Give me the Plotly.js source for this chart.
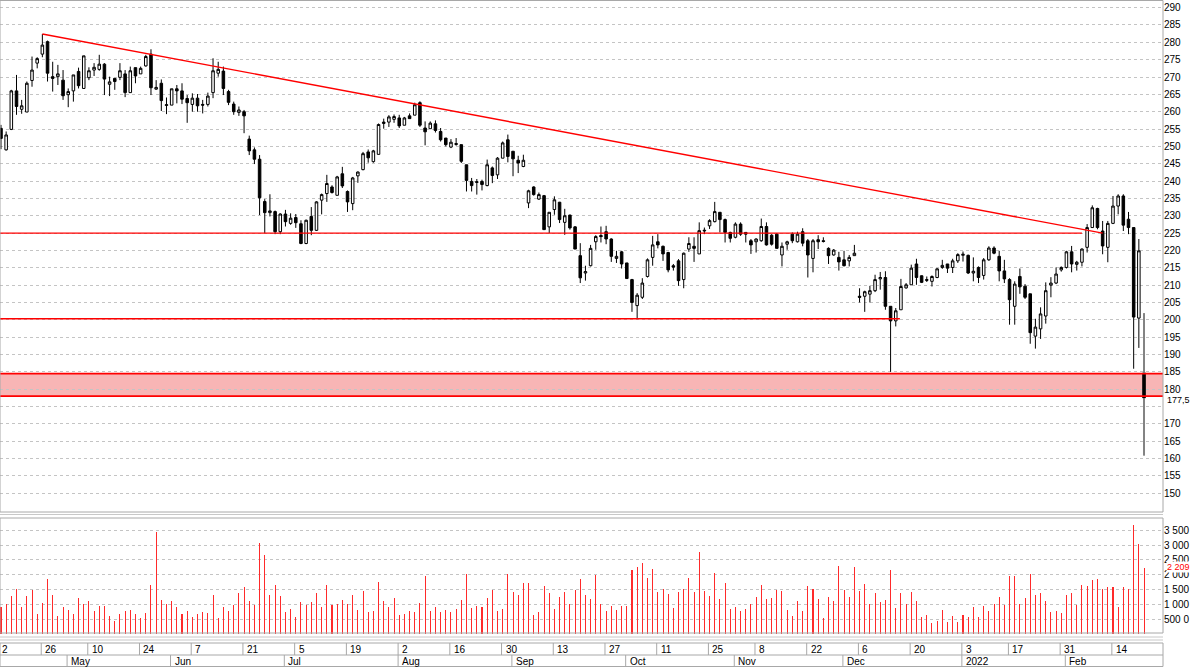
<!DOCTYPE html>
<html>
<head>
<meta charset="utf-8">
<script src="https://cdn.plot.ly/plotly-3.0.1.min.js"></script>
<style>html,body{margin:0;padding:0;background:#fff}#chart{width:1200px;height:667px}</style>
</head>
<body>
<div id="chart"></div>
<script>
// ---- DATA (daily candles, index 0..221) ----
const openP = [255.2,249.0,254.9,266.0,260.7,259.9,269.0,274.0,276.6,280.2,270.1,270.1,269.1,264.9,266.0,271.6,266.7,269.8,272.0,272.2,
273.7,267.9,269.6,269.9,270.9,265.5,272.7,270.9,273.2,276.6,266.5,268.2,261.8,261.9,266.6,266.0,263.8,262.1,263.9,262.1,
262.1,265.5,271.1,271.7,265.8,262.2,259.8,260.0,252.1,249.0,246.3,234.1,230.9,231.2,225.4,230.5,227.8,229.5,227.7,222.0,
229.8,225.8,234.5,236.4,238.3,235.9,242.1,237.0,233.5,241.5,243.3,248.4,245.6,247.7,256.6,257.0,257.8,258.2,256.1,258.8,
259.0,262.6,255.3,255.1,256.5,254.3,252.4,249.8,250.8,250.5,244.7,239.9,239.6,239.9,238.7,243.8,241.8,246.6,251.9,248.6,
246.0,244.2,233.7,238.3,234.8,235.8,226.8,231.8,233.9,228.1,230.2,226.8,218.5,213.5,215.6,222.5,224.3,225.4,223.3,217.7,
219.6,216.4,211.6,204.1,206.5,212.5,218.0,222.5,221.2,219.4,215.6,217.0,211.6,220.4,221.2,219.0,225.6,227.1,228.3,231.0,
228.9,225.2,223.8,227.6,225.2,222.8,222.5,222.8,226.9,224.4,224.7,218.7,221.8,224.7,222.5,225.4,222.8,217.7,223.1,222.8,
220.6,218.7,218.0,217.3,217.0,218.5,206.8,206.8,207.4,208.4,211.8,212.2,203.9,199.7,202.9,209.2,210.1,216.1,212.7,211.6,
211.1,212.2,215.1,216.1,215.1,217.0,218.6,218.6,213.5,215.1,212.8,217.3,220.7,218.3,214.1,211.6,203.9,212.5,209.7,207.5,
195.3,197.4,201.1,210.0,210.6,214.4,215.1,219.6,216.0,216.6,220.9,226.6,232.1,225.6,220.9,227.8,232.8,235.7,229.0,226.6,
200.5,184.7];
const highP = [256.2,254.3,266.3,270.6,263.4,268.7,275.9,275.7,282.4,280.5,274.4,273.5,272.0,266.7,270.6,272.7,276.1,272.8,274.0,276.4,
274.0,270.1,269.6,274.0,272.0,273.0,272.7,273.0,276.4,278.0,269.1,269.3,264.1,266.6,267.7,268.2,264.8,265.3,265.1,263.4,
265.5,275.4,274.4,273.0,266.3,262.9,261.5,260.5,253.1,249.7,247.5,234.8,236.2,231.5,230.7,231.7,230.7,230.5,228.7,228.9,
232.5,234.2,236.4,241.8,238.8,241.5,244.1,237.3,241.2,242.8,248.4,249.1,249.0,256.6,258.0,259.0,259.2,259.1,258.5,259.5,
262.6,263.0,257.2,257.2,257.5,255.3,252.4,252.1,252.4,250.5,244.7,240.9,240.6,240.4,246.2,244.2,246.9,251.4,253.4,248.6,
247.3,247.6,237.5,238.5,236.7,236.0,231.0,235.6,234.0,232.0,230.3,227.0,222.1,215.6,221.6,224.4,226.9,227.1,223.5,219.9,
219.9,216.4,211.8,207.7,212.0,217.7,224.2,224.7,221.4,219.6,216.1,217.5,219.4,223.8,223.8,228.1,226.6,229.0,234.0,231.0,
229.2,225.4,228.1,228.1,225.2,223.3,223.5,229.2,228.1,224.7,225.0,222.3,222.8,225.2,225.4,226.4,223.3,223.3,224.4,223.8,
220.9,220.4,219.6,219.9,218.7,221.6,209.1,208.4,209.8,213.0,213.8,214.0,203.9,203.4,211.8,210.6,215.9,217.6,212.8,212.5,
212.8,214.9,217.3,216.1,217.6,219.2,219.7,218.8,218.0,215.4,217.8,221.2,221.2,219.9,217.3,212.0,211.1,214.8,210.3,207.5,
200.3,203.6,210.8,212.3,215.1,215.4,219.9,221.3,217.0,220.6,227.6,233.0,232.3,228.5,228.5,235.7,236.2,236.2,231.1,226.6,
223.3,201.9];
const lowP = [249.2,248.8,254.7,259.1,259.4,259.9,267.2,272.5,275.7,268.7,265.8,267.7,263.4,261.3,262.9,266.7,266.7,269.1,270.3,271.8,
264.8,264.5,266.3,269.1,264.2,265.5,268.2,270.9,273.0,264.8,266.3,260.2,259.3,261.9,262.4,262.2,256.8,260.0,260.0,259.5,
261.5,263.9,270.1,264.8,261.9,259.1,258.8,253.8,247.5,244.9,230.2,225.0,229.8,224.7,224.7,226.9,227.4,226.5,221.8,221.8,
224.4,225.6,230.4,234.0,236.4,235.9,238.0,231.1,231.6,239.5,243.1,245.3,245.3,247.7,255.1,255.6,256.8,255.3,256.1,258.0,
259.0,255.6,250.3,255.1,254.0,251.4,250.0,249.5,250.2,245.2,237.0,237.0,236.1,237.3,238.5,239.4,240.6,246.6,245.4,241.4,
242.3,244.0,232.2,235.8,234.6,226.0,225.0,230.3,227.9,224.5,226.0,220.4,210.6,211.3,215.4,220.2,222.3,221.8,216.7,216.4,
214.8,211.8,202.3,200.2,206.0,212.2,215.6,220.6,217.0,213.7,214.2,209.8,209.1,219.6,216.7,219.0,224.7,226.2,228.1,225.2,
222.3,222.3,223.5,224.2,222.3,219.0,219.4,222.5,221.4,221.4,220.6,215.4,220.2,222.1,222.3,221.2,212.2,213.7,220.4,222.3,
216.1,218.5,214.2,215.4,215.4,218.5,205.0,202.3,205.0,208.0,208.7,202.9,185.0,198.1,202.9,209.0,210.1,210.1,210.6,210.9,
209.6,212.0,214.7,213.5,213.5,216.4,216.8,213.2,211.1,210.6,211.6,217.0,218.9,211.1,210.6,198.6,198.6,207.5,206.0,193.1,
191.7,194.5,198.9,206.5,210.3,213.9,214.8,213.7,214.2,215.4,219.4,226.6,226.1,218.9,216.6,227.6,230.4,225.6,224.7,185.9,
191.9,160.9];
const closeP = [252.3,253.3,266.0,261.5,261.7,268.2,272.0,275.3,279.2,271.1,269.6,270.9,264.6,265.8,270.6,267.5,276.1,271.8,272.8,273.7,
269.4,268.6,268.7,271.8,265.5,271.8,270.3,272.5,275.9,266.9,267.0,263.2,262.0,266.6,266.0,263.6,262.6,263.9,261.7,261.9,
264.5,271.8,272.2,266.7,262.7,260.0,260.5,258.8,248.7,246.3,235.2,230.9,231.4,225.4,230.5,228.3,229.3,228.0,222.0,228.7,
225.8,234.0,236.1,239.3,236.7,241.2,238.6,234.0,240.9,242.6,247.9,246.7,248.7,256.3,257.0,258.5,258.6,255.9,258.2,258.0,
262.0,256.1,254.2,256.7,254.6,251.9,250.5,251.2,250.6,245.7,240.2,238.7,239.8,239.0,244.7,241.6,246.6,251.0,247.1,246.4,
245.2,246.0,237.2,236.1,236.1,226.0,231.0,234.6,228.9,230.0,226.5,220.4,212.1,213.9,220.6,224.0,224.0,223.3,218.3,218.3,
216.1,211.9,205.0,207.1,210.6,217.3,221.6,221.6,219.0,214.4,215.2,211.3,219.2,222.0,220.6,225.7,225.8,228.6,231.2,228.9,
225.2,223.5,227.6,224.7,224.7,221.6,223.3,226.9,221.6,221.8,220.6,221.2,222.5,222.8,224.7,222.1,218.7,222.8,222.5,222.6,
218.5,220.1,216.7,215.6,218.0,219.2,206.5,208.1,208.4,211.6,212.2,203.9,199.7,202.6,209.6,210.1,214.9,212.2,210.8,211.4,
212.5,214.7,215.7,214.9,217.0,218.8,218.9,213.5,214.0,212.2,217.3,220.7,219.2,214.1,211.8,205.8,210.3,209.5,206.5,196.3,
197.9,201.7,208.4,210.6,213.2,215.1,219.6,216.1,216.6,220.4,226.6,232.3,226.6,221.3,227.8,232.8,235.7,227.3,226.6,200.8,
219.9,177.5];
const volume = [927,1017,1265,1523,894,1265,1489,680,1051,1861,1321,613,894,815,691,1208,1006,1118,759,950,
950,613,444,691,759,815,680,534,714,1658,3434,1152,1006,1096,927,669,792,568,691,736,
714,1321,534,927,792,983,1399,1568,1096,961,3063,2647,1321,1658,1287,725,837,568,1073,983,
1073,1388,894,1658,961,1017,1152,1017,1321,815,1433,725,781,1748,1118,927,1208,646,691,781,
747,1051,1962,770,916,736,804,747,837,1152,2018,871,950,894,1208,1489,770,837,2029,1411,
1321,1725,1714,646,747,1613,1377,849,1253,1422,1017,1478,1838,1321,1175,1995,1006,792,950,815,
950,950,2164,2243,2389,1894,2198,1411,1523,1354,871,1411,1501,1894,1422,2770,1456,1287,2063,1175,
1714,849,916,792,849,1006,1231,1635,1186,1208,1478,1456,815,613,1096,792,1613,1523,1175,534,
1231,1118,2299,1478,1253,2265,1433,1692,1017,1377,1073,1152,2164,871,1388,1017,1411,1096,568,646,
365,444,815,421,613,421,646,590,927,568,950,792,1017,1253,961,1962,1962,1017,1220,2018,
1321,1399,1118,747,770,714,1309,1377,961,1635,1613,1815,1838,1523,1590,1590,894,1590,1523,3659,
3030,2209];

// axis labels
const priceTicks = [150,155,160,165,170,175,180,185,190,195,200,205,210,215,220,225,230,235,240,245,250,255,260,265,270,275,280,285,290];
const volTicks = [500,1000,1500,2000,2500,3000,3500];
const volTickText = ['500 0','1 000','1 500','2 000','2 500','3 000','3 500'];
const dayLabels = ['26','10','24','7','21','5','19','2','16','30','13','27','11','25','8','22','6','20','3','17','31','14'];
const dayPos    = [8,17,27,37,47,57,67,77,87,97,107,117,127,137,146,156,166,176,186,195,205,215];
const firstDayLabel = '2';
const monthLabels = ['May','Jun','Jul','Aug','Sep','Oct','Nov','Dec','2022','Feb'];
const monthPos    = [13,33,55,77,99,121,142,163,186,206];

// drawn levels
const trendFrom = [8, 282.4], trendTo = [213, 225.0];
const level225 = 225, level225End = 209;
const level200 = 200.3, level200End = 173.8;
const bandLow = 178.0, bandHigh = 184.5;
const lastCloseText = '177,5', lastVolText = '2 209';

// ---- BUILD ----
const idx = closeP.map((_, i) => i);
const last = closeP.length - 1;
const X0 = -0.19, X1 = 224.67;
const H = 667;
const pf = px => 1 - px / H; // pixel row -> paper fraction

const grid = {gridcolor:'#c4c4c4', griddash:'3px,3px', gridwidth:1};
const tfont = {family:'Liberation Sans, Arial, sans-serif', size:10, color:'#000'};

const traces = [
  {type:'candlestick', x:idx, open:openP, high:highP, low:lowP, close:closeP,
   xaxis:'x', yaxis:'y', whiskerwidth:0, hoverinfo:'skip',
   increasing:{line:{color:'#000', width:1}, fillcolor:'#ffffff'},
   decreasing:{line:{color:'#000', width:1}, fillcolor:'#000000'}},
  {type:'bar', x:idx, y:volume, xaxis:'x', yaxis:'y2', width:0.2,
   marker:{color:'#ff2a2a', line:{width:0}}, hoverinfo:'skip'}
];

const shapes = [
  // support band
  {type:'rect', xref:'x', yref:'y', x0:X0, x1:X1, y0:bandLow, y1:bandHigh, layer:'below',
   fillcolor:'#f8b5b5', line:{width:0}},
  {type:'line', xref:'x', yref:'y', x0:X0, x1:X1, y0:bandHigh, y1:bandHigh, line:{color:'#ff0000', width:1.6}},
  {type:'line', xref:'x', yref:'y', x0:X0, x1:X1, y0:bandLow, y1:bandLow, line:{color:'#ff0000', width:1.6}},
  // levels and trend line
  {type:'line', xref:'x', yref:'y', x0:X0, x1:level225End, y0:level225, y1:level225, line:{color:'#ff0000', width:1.4}},
  {type:'line', xref:'x', yref:'y', x0:X0, x1:level200End, y0:level200, y1:level200, line:{color:'#ff0000', width:1.4}},
  {type:'line', xref:'x', yref:'y', x0:trendFrom[0], x1:trendTo[0], y0:trendFrom[1], y1:trendTo[1], line:{color:'#ff0000', width:1.4}},
  // grey wick of the latest candle
  {type:'line', xref:'x', yref:'y', x0:last, x1:last, y0:highP[last], y1:Math.max(openP[last], closeP[last]), line:{color:'#858585', width:1.6}},
  {type:'line', xref:'x', yref:'y', x0:last, x1:last, y0:Math.min(openP[last], closeP[last]), y1:lowP[last], line:{color:'#858585', width:1.6}},
  // pane frames
  {type:'rect', xref:'paper', yref:'paper', x0:0, x1:1, y0:pf(512), y1:pf(0.5), line:{color:'#a8a8a8', width:1}},
  {type:'rect', xref:'paper', yref:'paper', x0:0, x1:1, y0:pf(633), y1:pf(518), line:{color:'#a8a8a8', width:1}},
  {type:'line', xref:'paper', yref:'paper', x0:0, x1:1, y0:pf(514.5), y1:pf(514.5), line:{color:'#c8c8c8', width:1}},
  {type:'line', xref:'paper', yref:'paper', x0:0, x1:1, y0:pf(637), y1:pf(637), line:{color:'#c8c8c8', width:1}},
  {type:'line', xref:'paper', yref:'paper', x0:0, x1:1, y0:pf(640), y1:pf(640), line:{color:'#c8c8c8', width:1}},
  // date band
  {type:'rect', xref:'paper', yref:'paper', x0:0, x1:1, y0:pf(666.5), y1:pf(643), fillcolor:'#ffffff', line:{color:'#a8a8a8', width:1}},
  {type:'line', xref:'paper', yref:'paper', x0:0, x1:1, y0:pf(655), y1:pf(655), line:{color:'#a8a8a8', width:1}}
];
dayPos.forEach(p => shapes.push({type:'line', xref:'x', yref:'paper', x0:p-0.22, x1:p-0.22, y0:pf(643), y1:pf(655), line:{color:'#a8a8a8', width:1}}));
monthPos.forEach(p => shapes.push({type:'line', xref:'x', yref:'paper', x0:p-0.22, x1:p-0.22, y0:pf(655), y1:pf(666.5), line:{color:'#a8a8a8', width:1}}));

const annotations = [
  {xref:'paper', yref:'y', x:1, y:closeP[last], xanchor:'left', yanchor:'middle', xshift:3, yshift:-2, showarrow:false,
   text:lastCloseText, font:{family:tfont.family, size:9, color:'#000'}, bgcolor:'#ffffff', borderpad:0},
  {xref:'paper', yref:'y2', x:1, y:volume[last], xanchor:'left', yanchor:'middle', xshift:3, yshift:1, showarrow:false,
   text:lastVolText, font:{family:tfont.family, size:9, color:'#ff0000'}, bgcolor:'#ffffff', borderpad:0},
  {xref:'paper', yref:'paper', x:0, y:pf(649), xanchor:'left', yanchor:'middle', xshift:0, showarrow:false,
   text:firstDayLabel, font:tfont}
];
dayLabels.forEach((t, i) => annotations.push({xref:'x', yref:'paper', x:dayPos[i]-0.22, y:pf(649), xanchor:'left', yanchor:'middle',
  xshift:2, showarrow:false, text:t, font:tfont}));
monthLabels.forEach((t, i) => annotations.push({xref:'x', yref:'paper', x:monthPos[i]-0.22, y:pf(661), xanchor:'left', yanchor:'middle',
  xshift:2, showarrow:false, text:t, font:tfont}));

const layout = {
  width:1200, height:667, margin:{l:0, r:37, t:0, b:0}, showlegend:false,
  paper_bgcolor:'#ffffff', plot_bgcolor:'#ffffff', bargap:0,
  xaxis:{range:[X0, X1], anchor:'y2', showgrid:false, zeroline:false, showticklabels:false, ticks:'',
         rangeslider:{visible:false}, fixedrange:true},
  yaxis:Object.assign({domain:[pf(512), 1], range:[144.6, 292.2], side:'right', anchor:'x',
         tickvals:priceTicks, ticktext:priceTicks.map(v => v === 175 ? '' : String(v)),
         zeroline:false, ticks:'', tickfont:tfont, fixedrange:true}, grid),
  yaxis2:Object.assign({domain:[pf(634), pf(518)], range:[0, 3910], side:'right', anchor:'x',
         tickvals:volTicks, ticktext:volTickText, zeroline:false, ticks:'', tickfont:tfont, fixedrange:true}, grid),
  shapes:shapes, annotations:annotations
};

Plotly.newPlot('chart', traces, layout, {staticPlot:true, displayModeBar:false});
</script>
</body>
</html>
